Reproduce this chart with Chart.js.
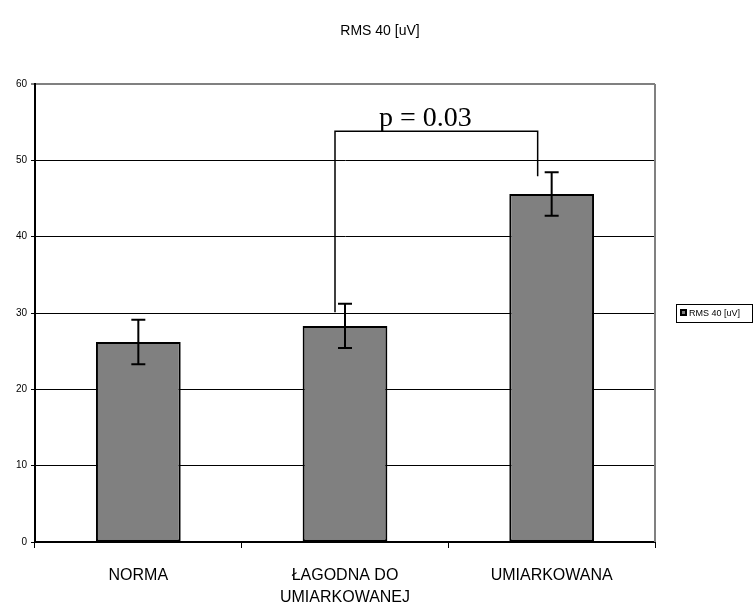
<!DOCTYPE html>
<html>
<head>
<meta charset="utf-8">
<script src="https://cdn.jsdelivr.net/npm/chart.js@4.4.0/dist/chart.umd.min.js"></script>
<style>
  html, body { margin: 0; padding: 0; background: #fff; }
  #wrap { width: 754px; height: 609px; }
</style>
</head>
<body>
<div id="wrap"><canvas id="rms-chart" width="754" height="609"></canvas></div>
<script>
    const categories = ['NORMA', ['ŁAGODNA DO', 'UMIARKOWANEJ'], 'UMIARKOWANA'];
    const seriesName = 'RMS 40 [uV]';
    const means = [26.2, 28.3, 45.6];
    const errors = [2.9, 2.9, 2.85];
    const yTicks = [0, 10, 20, 30, 40, 50, 60];

    // bracket for significance: from category 1 to 2
    const bracketFrom = 1, bracketTo = 2;
    const bracketTop = 53.8, bracketLeftEnd = 30.1, bracketRightEnd = 47.9;
    const bracketLabel = 'p = 0.03';

    const extras = {
        id: 'extras',
        afterDatasetsDraw(chart) {
            const ctx = chart.ctx;
            const x = chart.scales.x, y = chart.scales.y;
            const area = chart.chartArea;
            ctx.save();

            // right plot border (gray)
            ctx.strokeStyle = '#808080';
            ctx.lineWidth = 2;
            ctx.beginPath();
            ctx.moveTo(area.right, area.top);
            ctx.lineTo(area.right, area.bottom);
            ctx.stroke();

            // error bars
            ctx.strokeStyle = '#000';
            ctx.lineWidth = 2;
            means.forEach((m, i) => {
                const cx = x.getPixelForValue(i);
                const yt = y.getPixelForValue(m + errors[i]);
                const yb = y.getPixelForValue(m - errors[i]);
                ctx.beginPath();
                ctx.moveTo(cx, yt); ctx.lineTo(cx, yb);
                ctx.moveTo(cx - 7, yt); ctx.lineTo(cx + 7, yt);
                ctx.moveTo(cx - 7, yb); ctx.lineTo(cx + 7, yb);
                ctx.stroke();
            });

            // significance bracket
            const xl = x.getPixelForValue(bracketFrom) - 10;
            const xr = x.getPixelForValue(bracketTo) - 14;
            const yTop = y.getPixelForValue(bracketTop);
            ctx.lineWidth = 1.5;
            ctx.beginPath();
            ctx.moveTo(xl, y.getPixelForValue(bracketLeftEnd));
            ctx.lineTo(xl, yTop);
            ctx.lineTo(xr, yTop);
            ctx.lineTo(xr, y.getPixelForValue(bracketRightEnd));
            ctx.stroke();
            ctx.fillStyle = '#000';
            ctx.font = '28px "Liberation Serif", "Times New Roman", serif';
            ctx.textAlign = 'center';
            ctx.textBaseline = 'alphabetic';
            ctx.fillText(bracketLabel, (xl + xr) / 2 - 11, yTop - 5);

            // title
            ctx.font = '14px "Liberation Sans", Arial, sans-serif';
            ctx.textBaseline = 'middle';
            ctx.fillText(seriesName, 380, 31);

            // legend
            ctx.lineWidth = 1;
            ctx.strokeStyle = '#000';
            ctx.strokeRect(676.5, 304.5, 76, 18);
            ctx.fillStyle = '#000';
            ctx.fillRect(680, 309, 7, 7);
            ctx.fillStyle = '#808080';
            ctx.fillRect(682, 311, 3, 3);
            ctx.fillStyle = '#000';
            ctx.font = '9px "Liberation Sans", Arial, sans-serif';
            ctx.textAlign = 'left';
            ctx.fillText(seriesName, 689, 313.5);
            ctx.restore();
        }
    };

    new Chart(document.getElementById('rms-chart'), {
        type: 'bar',
        data: {
            labels: categories,
            datasets: [{
                label: seriesName,
                data: means,
                backgroundColor: '#808080',
                borderColor: '#000',
                borderWidth: 2,
                borderSkipped: false,
                categoryPercentage: 1,
                barPercentage: 0.41
            }]
        },
        options: {
            responsive: false,
            animation: false,
            layout: { padding: { top: 84, right: 99, left: 0, bottom: 0 } },
            plugins: { legend: { display: false }, title: { display: false }, tooltip: { enabled: false } },
            scales: {
                x: {
                    grid: { offset: true, drawOnChartArea: false, color: '#000', tickLength: 6, lineWidth: 1 },
                    border: { color: '#000', width: 2 },
                    ticks: {
                        color: '#000', padding: 16, maxRotation: 0, autoSkip: false,
                        font: { family: '"Liberation Sans", Arial, sans-serif', size: 16, lineHeight: 1.4 }
                    },
                    afterFit(s) { s.height = 67; }
                },
                y: {
                    min: 0, max: 60,
                    afterBuildTicks(s) { s.ticks = yTicks.map(v => ({ value: v })); },
                    grid: {
                        color: c => c.tick && c.tick.value === 60 ? '#808080' : '#000',
                        lineWidth: c => c.tick && c.tick.value === 60 ? 2 : 1,
                        tickLength: 4
                    },
                    border: { color: '#000', width: 2 },
                    ticks: {
                        color: '#000', padding: 4,
                        font: { family: '"Liberation Sans", Arial, sans-serif', size: 10 }
                    },
                    afterFit(s) { s.width = 35; }
                }
            }
        },
        plugins: [extras]
    });
</script>
</body>
</html>
